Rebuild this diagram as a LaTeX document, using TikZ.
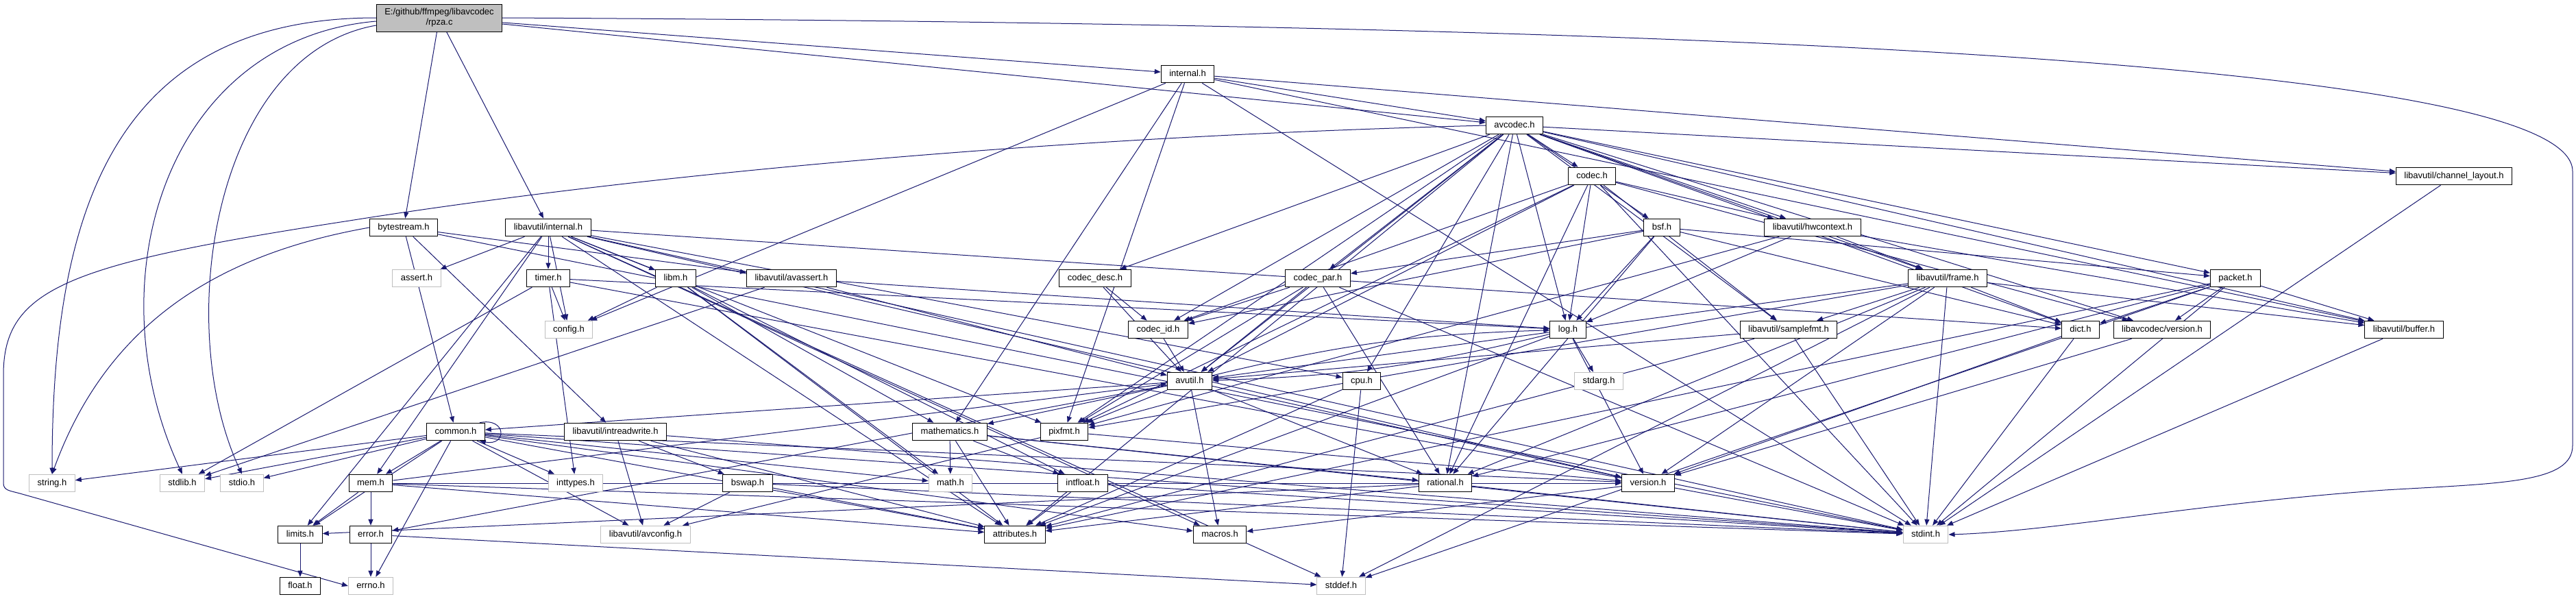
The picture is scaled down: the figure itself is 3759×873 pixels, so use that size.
\documentclass[tikz,border=0pt]{standalone}
\usepackage{fontspec}
\setmainfont{Liberation Sans}
\usetikzlibrary{arrows.meta,backgrounds}
\definecolor{edgecol}{RGB}{25,25,112}
\definecolor{sysgray}{RGB}{191,191,191}
\definecolor{rootgray}{RGB}{191,191,191}
\begin{document}
\begin{tikzpicture}[x=1pt,y=1pt,
  nd/.style={draw=black, line width=1pt, fill=white, font=\fontsize{13}{15}\selectfont,
    inner xsep=12pt, inner ysep=0pt, minimum height=25.6pt, text height=10pt, text depth=3pt},
  sys/.style={nd, draw=sysgray},
  rootnd/.style={nd, fill=rootgray, align=center, minimum height=40pt, text height=, text depth=, inner ysep=2pt},
  edge/.style={draw=edgecol, line width=1pt, -{Triangle[length=9pt,width=7pt]}}]
\useasboundingbox (0,0) rectangle (3759,-873);
\node[rootnd] (root) at (641,-26) {E:/github/ffmpeg/libavcodec\\/rpza.c};
\node[nd] (internal) at (1733,-108) {internal.h};
\node[nd] (avcodec) at (2210,-183) {avcodec.h};
\node[nd] (codec) at (2323,-257) {codec.h};
\node[nd] (chlayout) at (3581,-257) {libavutil/channel\_layout.h};
\node[nd] (bytestream) at (589,-332) {bytestream.h};
\node[nd] (lavuint) at (800,-332) {libavutil/internal.h};
\node[nd] (bsf) at (2425,-332) {bsf.h};
\node[nd] (hwctx) at (2645,-332) {libavutil/hwcontext.h};
\node[sys] (assert) at (608,-406) {assert.h};
\node[nd] (timer) at (800,-406) {timer.h};
\node[nd] (libm) at (986,-406) {libm.h};
\node[nd] (avassert) at (1155,-406) {libavutil/avassert.h};
\node[nd] (codecdesc) at (1598,-406) {codec\_desc.h};
\node[nd] (codecpar) at (1923,-406) {codec\_par.h};
\node[nd] (frame) at (2842,-406) {libavutil/frame.h};
\node[nd] (packet) at (3262,-406) {packet.h};
\node[sys] (config) at (830,-481) {config.h};
\node[nd] (codecid) at (1690,-481) {codec\_id.h};
\node[nd] (log) at (2288,-481) {log.h};
\node[nd] (samplefmt) at (2610,-481) {libavutil/samplefmt.h};
\node[nd] (dict) at (3036,-481) {dict.h};
\node[nd] (lavcver) at (3155,-481) {libavcodec/version.h};
\node[nd] (buffer) at (3508,-481) {libavutil/buffer.h};
\node[nd] (avutil) at (1736,-556) {avutil.h};
\node[nd] (cpu) at (1987,-556) {cpu.h};
\node[sys] (stdarg) at (2333,-556) {stdarg.h};
\node[nd] (common) at (665,-630) {common.h};
\node[nd] (intrw) at (898,-630) {libavutil/intreadwrite.h};
\node[nd] (mathem) at (1386,-630) {mathematics.h};
\node[nd] (pixfmt) at (1553,-630) {pixfmt.h};
\node[sys] (string) at (76,-705) {string.h};
\node[sys] (stdlib) at (266,-705) {stdlib.h};
\node[sys] (stdio) at (353,-705) {stdio.h};
\node[nd] (mem) at (541,-705) {mem.h};
\node[sys] (inttypes) at (840,-705) {inttypes.h};
\node[nd] (bswap) at (1091,-705) {bswap.h};
\node[sys] (math) at (1387,-705) {math.h};
\node[nd] (intfloat) at (1580,-705) {intfloat.h};
\node[nd] (rational) at (2109,-705) {rational.h};
\node[nd] (version) at (2405,-705) {version.h};
\node[nd] (limits) at (438,-780) {limits.h};
\node[nd] (error) at (541,-780) {error.h};
\node[sys] (avconfig) at (942,-780) {libavutil/avconfig.h};
\node[nd] (attributes) at (1481,-780) {attributes.h};
\node[nd] (macros) at (1780,-780) {macros.h};
\node[sys] (stdint) at (2810,-780) {stdint.h};
\node[nd] (float) at (438,-855) {float.h};
\node[sys] (errno) at (541,-855) {errno.h};
\node[sys] (stddef) at (1957,-855) {stddef.h};
\begin{pgfonlayer}{background}
\fill[white] (0,0) rectangle (3759,-873);
\foreach \a/\b in {root/lavuint, root/avcodec, root/bytestream, root/internal,
  internal/stdint, internal/buffer, internal/chlayout, internal/mathem, internal/pixfmt, internal/avcodec, internal/config,
  bytestream/stdint, bytestream/avassert, bytestream/common, bytestream/intrw,
  lavuint/limits, lavuint/stdint, lavuint/stddef, lavuint/assert, lavuint/config, lavuint/attributes, lavuint/timer, lavuint/cpu, lavuint/dict, lavuint/macros, lavuint/mem, lavuint/pixfmt, lavuint/version, lavuint/libm,
  avcodec/samplefmt, avcodec/attributes, avcodec/avutil, avcodec/buffer, avcodec/cpu, avcodec/chlayout, avcodec/dict, avcodec/frame, avcodec/hwctx, avcodec/log, avcodec/pixfmt, avcodec/rational, avcodec/bsf, avcodec/codec, avcodec/codecdesc, avcodec/codecpar, avcodec/codecid, avcodec/packet, avcodec/lavcver,
  codec/stdint, codec/avutil, codec/hwctx, codec/log, codec/pixfmt, codec/rational, codec/samplefmt, codec/codecid, codec/lavcver,
  bsf/dict, bsf/log, bsf/rational, bsf/codecid, bsf/codecpar, bsf/packet,
  hwctx/buffer, hwctx/frame, hwctx/log, hwctx/pixfmt,
  timer/config, timer/stdlib, timer/stdint, timer/inttypes, timer/log,
  libm/math, libm/config, libm/attributes, libm/intfloat, libm/mathem,
  avassert/stdlib, avassert/avutil, avassert/log,
  codecdesc/avutil, codecdesc/codecid,
  codecpar/stdint, codecpar/avutil, codecpar/rational, codecpar/pixfmt, codecpar/codecid,
  frame/stddef, frame/stdint, frame/avutil, frame/buffer, frame/dict, frame/rational, frame/samplefmt, frame/pixfmt, frame/version,
  packet/stddef, packet/stdint, packet/attributes, packet/buffer, packet/dict, packet/rational, packet/lavcver,
  codecid/avutil,
  log/stdarg, log/attributes, log/version,
  samplefmt/stdint, samplefmt/avutil, samplefmt/attributes,
  dict/stdint, dict/version, lavcver/version, buffer/stdint, chlayout/stdint,
  avutil/common, avutil/error, avutil/rational, avutil/version, avutil/macros, avutil/mathem, avutil/pixfmt,
  cpu/stddef, cpu/attributes,
  common/errno, common/inttypes, common/limits, common/math, common/stdint, common/stdio, common/stdlib, common/string, common/attributes, common/macros, common/version, common/avconfig, common/mem,
  intrw/stdint, intrw/avconfig, intrw/attributes, intrw/bswap,
  bswap/stdint, bswap/avconfig, bswap/attributes,
  mathem/stdint, mathem/math, mathem/attributes, mathem/rational, mathem/intfloat,
  pixfmt/avconfig, pixfmt/version,
  intfloat/stdint, intfloat/attributes,
  rational/stdint, rational/limits, rational/attributes,
  version/macros,
  mem/limits, mem/stdint, mem/attributes, mem/error, mem/avutil, mem/version,
  error/errno, error/stddef, limits/float}
  {\draw[edge] (\a) -- (\b);}
% back-and-forth pair
\draw[edge] (log) to[bend left=6] (avutil);
\draw[edge] (avutil) to[bend left=6] (log);
% curves round the left
\draw[edge] (root.west) to[out=180,in=90,looseness=1.2] (string.north);
\draw[edge] ([yshift=-5]root.west) to[out=185,in=115,looseness=1.1] (stdlib.north);
\draw[edge] ([yshift=-11]root.west) to[out=190,in=115,looseness=0.9] (stdio.north);
\draw[edge] (bytestream.west) to[out=190,in=70] (string.north);
\draw[edge] (avcodec.west) .. controls (1500,-200) and (900,-260) .. (510,-322)
  .. controls (100,-385) and (5,-420) .. (5,-547) -- (5,-705)
  .. controls (5,-716) and (15,-716) .. (29,-720) -- (errno.west);
% curve round the right
\draw[edge] (root.east) .. controls (2500,-35) and (3754,-90) .. (3754,-250) -- (3754,-650)
  .. controls (3754,-705) and (3650,-705) .. (3480,-715)
  .. controls (3200,-735) and (3000,-775) .. (stdint.east);
% self loop
\draw[edge] ([xshift=-8]common.north east) .. controls +(40,8) and +(40,-8) .. ([xshift=-8]common.south east);
\end{pgfonlayer}
\end{tikzpicture}
\end{document}
